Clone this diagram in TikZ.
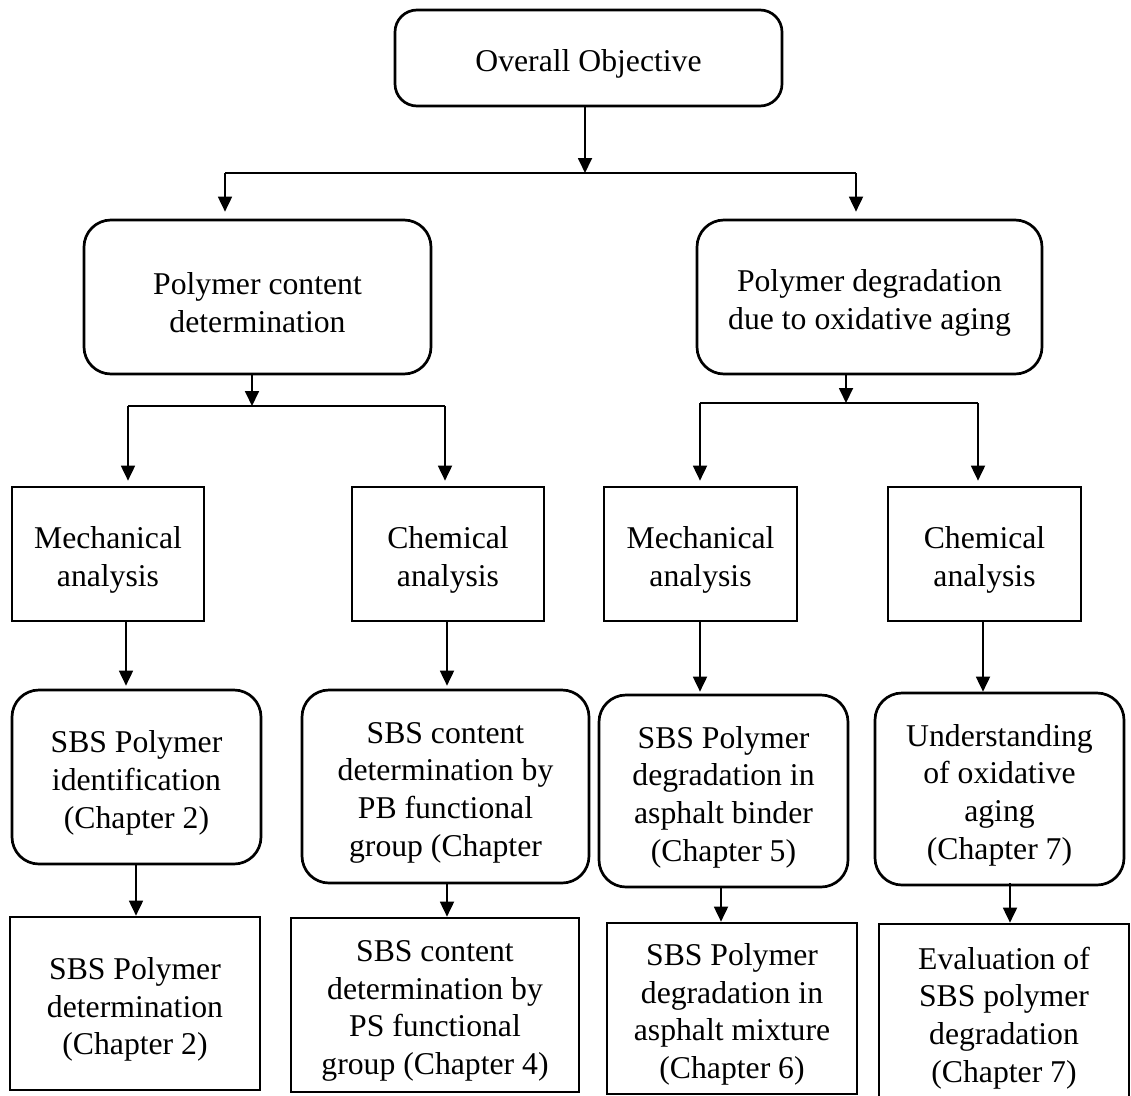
\documentclass[tikz,border=0pt]{standalone}
\usepackage{fontspec}
\setmainfont{Liberation Serif}
\usetikzlibrary{arrows.meta}
\begin{document}
\begin{tikzpicture}[x=1pt,y=-1pt,
  every node/.style={font=\fontsize{31.7}{37.7}\selectfont, align=center, inner sep=0pt},
  txt/.style={yshift=-6pt},
  rbox/.style={draw, line width=2.7pt, rounded corners=27pt},
  sbox/.style={draw, line width=2.7pt},
  conn/.style={line width=1.8pt},
  arr/.style={conn, -{Triangle[width=14pt,length=15pt]}}]
\useasboundingbox (0,0) rectangle (1131,1095);
% level 1
\node[rbox, rounded corners=22pt, minimum width=387pt, minimum height=96pt, label={[txt]center:{Overall Objective}}] (obj) at (588.5,58) {};
% level 2
\node[rbox, minimum width=347pt, minimum height=154pt, label={[txt]center:{Polymer content\\determination}}] (pc) at (257.5,297) {};
\node[rbox, minimum width=345pt, minimum height=154pt, label={[txt]center:{Polymer degradation\\due to oxidative aging}}] (pd) at (869.5,297) {};
% level 3
\node[sbox, minimum width=192pt, minimum height=134pt, label={[txt]center:{Mechanical\\analysis}}] (m1) at (108,554) {};
\node[sbox, minimum width=192pt, minimum height=134pt, label={[txt]center:{Chemical\\analysis}}] (c1) at (448,554) {};
\node[sbox, minimum width=193pt, minimum height=134pt, label={[txt]center:{Mechanical\\analysis}}] (m2) at (700.5,554) {};
\node[sbox, minimum width=193pt, minimum height=134pt, label={[txt]center:{Chemical\\analysis}}] (c2) at (984.5,554) {};
% level 4
\node[rbox, minimum width=249pt, minimum height=174pt, label={[txt]center:{SBS Polymer\\identification\\(Chapter 2)}}] (r1) at (136.5,777) {};
\node[rbox, minimum width=287pt, minimum height=193pt, label={[txt]center:{SBS content\\determination by\\PB functional\\group (Chapter}}] (r2) at (445.5,786.5) {};
\node[rbox, minimum width=249pt, minimum height=192pt, label={[txt]center:{SBS Polymer\\degradation in\\asphalt binder\\(Chapter 5)}}] (r3) at (723.5,791) {};
\node[rbox, minimum width=249pt, minimum height=192pt, label={[txt]center:{Understanding\\of oxidative\\aging\\(Chapter 7)}}] (r4) at (999.5,789) {};
% level 5
\node[sbox, minimum width=250pt, minimum height=173pt, label={[txt]center:{SBS Polymer\\determination\\(Chapter 2)}}] (b1) at (135,1003.5) {};
\node[sbox, minimum width=288pt, minimum height=174pt, label={[txt]center:{SBS content\\determination by\\PS functional\\group (Chapter 4)}}] (b2) at (435,1005) {};
\node[sbox, minimum width=250pt, minimum height=171pt, label={[txt]center:{SBS Polymer\\degradation in\\asphalt mixture\\(Chapter 6)}}] (b3) at (732,1008.5) {};
\node[sbox, minimum width=250pt, minimum height=176pt, label={[txt]center:{Evaluation of\\SBS polymer\\degradation\\(Chapter 7)}}] (b4) at (1004,1012) {};
% junction coordinates
\coordinate (t0) at (585,173);
\coordinate (tl) at (225,173);
\coordinate (tr) at (856,173);
\coordinate (l0) at (252,406);
\coordinate (ll) at (128,406);
\coordinate (lr) at (445,406);
\coordinate (q0) at (846,403);
\coordinate (ql) at (700,403);
\coordinate (qr) at (978,403);
% connectors level 1 -> 2
\draw[arr] (obj.south -| t0) -- (t0);
\draw[conn] (tl) -- (tr);
\draw[arr, shorten >=7pt] (tl) -- (tl |- pc.north);
\draw[arr, shorten >=7pt] (tr) -- (tr |- pd.north);
% level 2 -> 3
\draw[arr] (pc.south -| l0) -- (l0);
\draw[conn] (ll) -- (lr);
\draw[arr, shorten >=5pt] (ll) -- (ll |- m1.north);
\draw[arr, shorten >=5pt] (lr) -- (lr |- c1.north);
\draw[arr] (pd.south -| q0) -- (q0);
\draw[conn] (ql) -- (qr);
\draw[arr, shorten >=5pt] (ql) -- (ql |- m2.north);
\draw[arr, shorten >=5pt] (qr) -- (qr |- c2.north);
% level 3 -> 4
\draw[arr, shorten >=3pt] ([xshift=18pt]m1.south) -- ([xshift=-10.5pt]r1.north);
\draw[arr, shorten >=3pt] ([xshift=-1pt]c1.south) -- ([xshift=1.5pt]r2.north);
\draw[arr, shorten >=2pt] ([xshift=-0.5pt]m2.south) -- ([xshift=-23.5pt]r3.north);
\draw[arr] ([xshift=-1.5pt]c2.south) -- ([xshift=-16.5pt]r4.north);
% level 4 -> 5
\draw[arr] ([xshift=-0.5pt]r1.south) -- ([xshift=1pt]b1.north);
\draw[arr] ([xshift=1.5pt]r2.south) -- ([xshift=12pt]b2.north);
\draw[arr] ([xshift=-2.5pt]r3.south) -- ([xshift=-11pt]b3.north);
\draw[arr] ([xshift=10.5pt,yshift=3pt]r4.south) -- ([xshift=6pt]b4.north);
\end{tikzpicture}
\end{document}
